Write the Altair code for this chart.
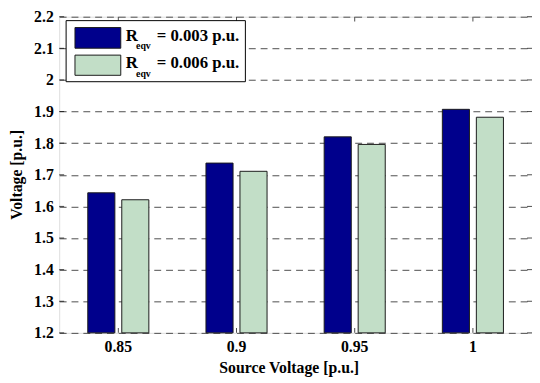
import altair as alt
import pandas as pd

# ---- data ----
sources = ["0.85", "0.9", "0.95", "1"]
series_names = ["0.003", "0.006"]
v_003 = [1.643, 1.737, 1.820, 1.907]
v_006 = [1.621, 1.711, 1.796, 1.882]
y_ticks = [1.2, 1.3, 1.4, 1.5, 1.6, 1.7, 1.8, 1.9, 2.0, 2.1, 2.2]
colors = ["#00008C", "#C2DEC7"]

rows = []
for i, s in enumerate(sources):
    rows.append({"src": s, "series": series_names[0], "v": v_003[i]})
    rows.append({"src": s, "series": series_names[1], "v": v_006[i]})
df = pd.DataFrame(rows)
tick_df = pd.DataFrame({"v": y_ticks})
src_df = pd.DataFrame({"src": sources})

W, H = 480, 321
FONT = "Liberation Serif"
FS = 16

xscale = alt.Scale(domain=sources, paddingInner=0, paddingOuter=0)
yscale = alt.Scale(domain=[1.2, 2.2], nice=False, zero=False)

x_axis = alt.Axis(title="Source Voltage [p.u.]", labelAngle=0, ticks=False, domain=False,
                  labelPadding=6, labelFontSize=FS, labelFont=FONT, labelFontWeight="bold",
                  titleFontSize=FS, titleFont=FONT, titleFontWeight="bold",
                  titleX=233, titleY=40, titleBaseline="alphabetic", titleAnchor="middle")
y_axis = alt.Axis(title="Voltage [p.u.]", values=y_ticks, format="~g", ticks=False, domain=False,
                  labelOverlap=False,
                  grid=True, gridDash=[7, 5], gridColor="#4d4d4d", gridWidth=1,
                  labelPadding=6, labelFontSize=FS, labelFont=FONT, labelFontWeight="bold",
                  titleFontSize=FS, titleFont=FONT, titleFontWeight="bold",
                  titleX=-38, titleY=160, titleBaseline="alphabetic", titleAngle=-90)

X = alt.X("src:N", scale=xscale, sort=None, axis=x_axis, title="Source Voltage [p.u.]")
Y = alt.Y("v:Q", scale=yscale, axis=y_axis, title="Voltage [p.u.]")

bars = alt.Chart(df).mark_bar(stroke="#1a1a1a", strokeWidth=1).encode(
    x=X,
    xOffset=alt.XOffset("series:N", sort=series_names,
                        scale=alt.Scale(paddingInner=0.203, paddingOuter=0.84)),
    y=Y,
    y2=alt.datum(1.2),
    color=alt.Color("series:N", scale=alt.Scale(domain=series_names, range=colors), legend=None),
)

# inner ticks (MATLAB style)
ytick_l = alt.Chart(tick_df).mark_tick(orient="horizontal", size=5, thickness=1, color="black").encode(
    y=Y, x=alt.value(2.5))
ytick_r = alt.Chart(tick_df).mark_tick(orient="horizontal", size=5, thickness=1, color="black").encode(
    y=Y, x=alt.value(W - 2.5))
xtick_b = alt.Chart(src_df).mark_tick(orient="vertical", size=5, thickness=1, color="black").encode(
    x=X, y=alt.value(H - 2.5))
xtick_t = alt.Chart(src_df).mark_tick(orient="vertical", size=5, thickness=1, color="black").encode(
    x=X, y=alt.value(2.5))

# legend drawn by hand (for the subscript)
leg = pd.DataFrame({"k": [0]})
box = alt.Chart(leg).mark_rect(fill="white", stroke="black", strokeWidth=1).encode(
    x=alt.value(7), x2=alt.value(189), y=alt.value(4), y2=alt.value(66))
legend_layers = [box]
row_y = [(11, 32, 24.3, 33), (39, 59.5, 52.3, 61)]
for i, (y0, y1, yb, ys) in enumerate(row_y):
    legend_layers.append(alt.Chart(leg).mark_rect(fill=colors[i], stroke="#1a1a1a", strokeWidth=1).encode(
        x=alt.value(16), x2=alt.value(62.5), y=alt.value(y0), y2=alt.value(y1)))
    legend_layers.append(alt.Chart(leg).mark_text(text="R", align="left", baseline="alphabetic",
                                                   font=FONT, fontWeight="bold", fontSize=17).encode(
        x=alt.value(67.5), y=alt.value(yb)))
    legend_layers.append(alt.Chart(leg).mark_text(text="eqv", align="left", baseline="alphabetic",
                                                   font=FONT, fontWeight="bold", fontSize=10).encode(
        x=alt.value(78), y=alt.value(ys)))
    legend_layers.append(alt.Chart(leg).mark_text(text=f"= {series_names[i]} p.u.", align="left",
                                                   baseline="alphabetic", font=FONT, fontWeight="bold",
                                                   fontSize=17).encode(
        x=alt.value(99), y=alt.value(yb)))

chart = alt.layer(bars, ytick_l, ytick_r, xtick_b, xtick_t, *legend_layers).properties(
    width=W, height=H,
    autosize=alt.AutoSizeParams(type="none"),
    padding={"left": 52, "top": 6, "right": 0, "bottom": 44},
).configure_view(stroke="black", strokeWidth=1).configure(background="white")

chart.save("out.html", embed_options={"renderer": "svg", "actions": False})
